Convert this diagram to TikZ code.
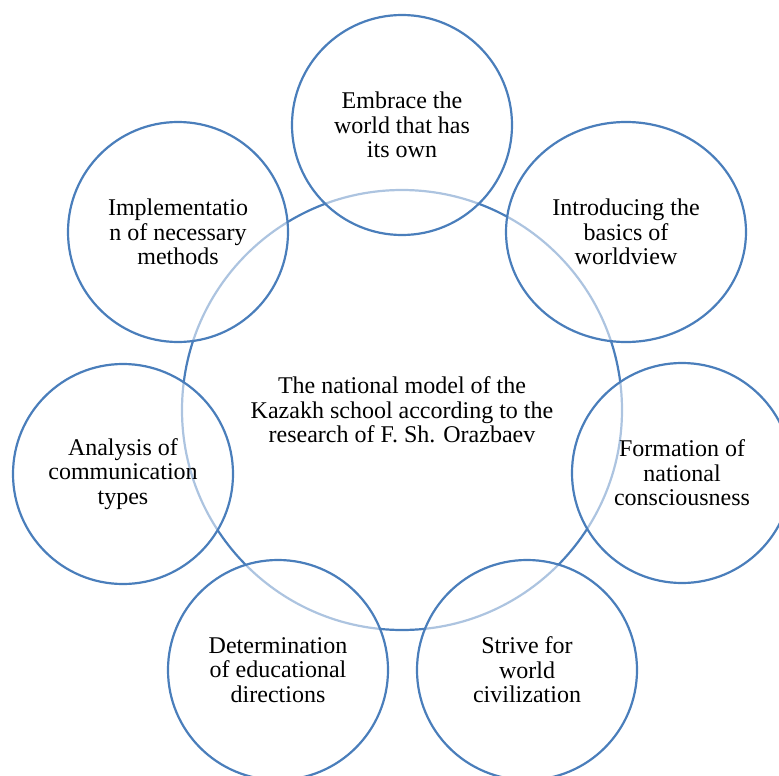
\documentclass[tikz,border=0pt]{standalone}
\usepackage{fontspec}
\setmainfont{Liberation Serif}
\usetikzlibrary{shapes.geometric}
\definecolor{ringblue}{RGB}{74,126,187}

\begin{document}
\begin{tikzpicture}[x=1pt,y=-1pt,
  txt/.style={align=center,font=\fontsize{24}{24.5}\selectfont},
  hub/.style={txt,circle,draw=ringblue,line width=2.2pt,minimum size=440pt},
  petal/.style={txt,circle,draw=ringblue,line width=2.2pt,fill=white,
    fill opacity=0.55,text opacity=1,minimum size=220pt}]
  \useasboundingbox (0,0) rectangle (779,776);
  % central circle first, petals on top
  \node[hub] (hub) at (402,410) {The national model of the\\Kazakh school according to the\\research of F. Sh. Orazbaev};
  \node[petal] (world) at (402,125) {Embrace the\\world that has\\its own};
  \node[petal,ellipse,minimum width=240pt,minimum height=220pt] (basics) at (626,232) {Introducing the\\basics of\\worldview};
  \node[petal] (conscious) at (682,473) {Formation of\\national\\consciousness};
  \node[petal] (civil) at (527,670) {Strive for\\world\\civilization};
  \node[petal] (edu) at (278,670) {Determination\\of educational\\directions};
  \node[petal] (comm) at (123,474) {Analysis of\\communication\\types};
  \node[petal] (methods) at (178,232) {Implementatio\\n of necessary\\methods};
\end{tikzpicture}
\end{document}
